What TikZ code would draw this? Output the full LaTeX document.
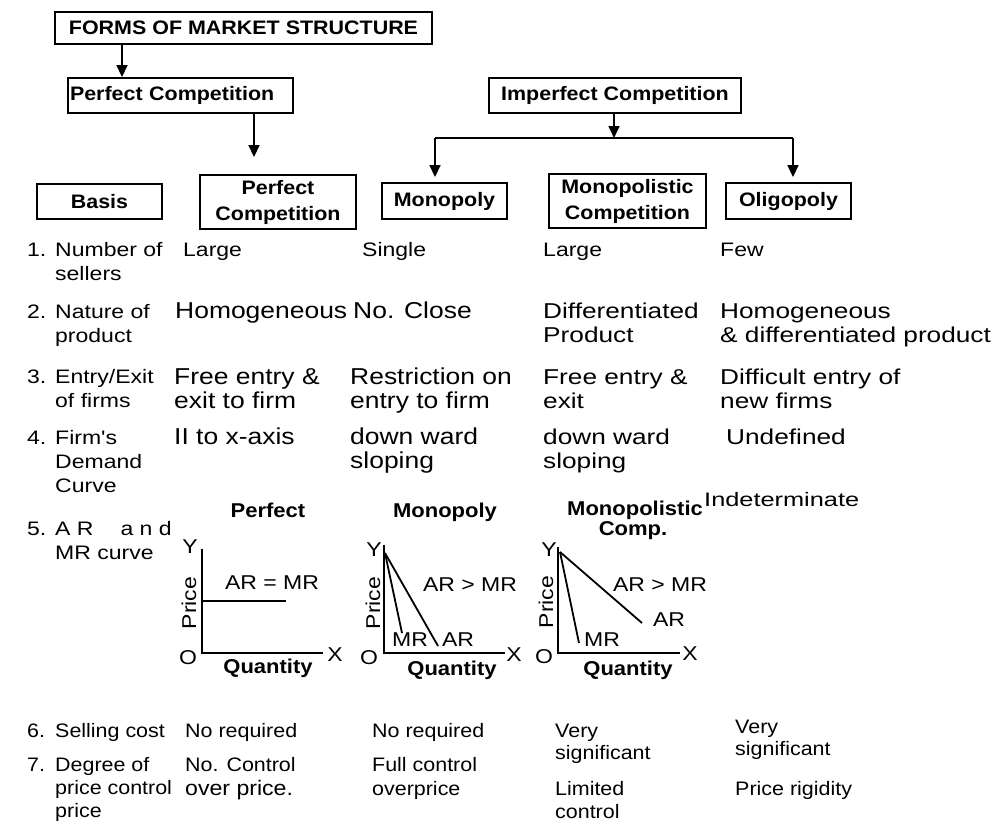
\documentclass[tikz,border=0pt]{standalone}
\usepackage{fontspec}
\setmainfont{Liberation Sans}
\newfontfamily\fA[FakeStretch=1.18]{Liberation Sans}
\newfontfamily\fB[FakeStretch=1.15]{Liberation Sans}
\newfontfamily\fC[FakeStretch=1.22]{Liberation Sans}
\newfontfamily\fD[FakeStretch=1.1]{Liberation Sans}
\newfontfamily\fE[FakeStretch=1.3]{Liberation Sans}
\usetikzlibrary{arrows.meta,calc}
\begin{document}
\begin{tikzpicture}[x=1pt,y=-1pt,
  box/.style={draw, line width=1.9pt, inner sep=0pt, align=center, font=\fD\bfseries\fontsize{19.5}{26}\selectfont},
  arr/.style={line width=1.7pt, -{Triangle[length=12pt,width=11pt]}},
  ln/.style={line width=1.7pt},
  lbl/.style={anchor=base west, inner sep=0pt, font=\fA\fontsize{19.5}{23}\selectfont},
  bigt/.style={anchor=base west, inner sep=0pt, font=\fB\fontsize{23}{26}\selectfont},
  midt/.style={anchor=base west, inner sep=0pt, font=\fC\fontsize{21.5}{25}\selectfont},
  bott/.style={anchor=base west, inner sep=0pt, font=\fD\fontsize{19.5}{22}\selectfont},
  gl/.style={inner sep=0pt, font=\fB\fontsize{20}{22}\selectfont},
  gt/.style={inner sep=0pt, font=\fD\bfseries\fontsize{20}{24}\selectfont},
  axis/.style={line width=2pt},
  curve/.style={line width=1.8pt}]
\useasboundingbox (0,0) rectangle (1001,828);
\fill[white] (0,0) rectangle (1001,828);

% ---------- boxes ----------
\node[box, minimum width=377pt, minimum height=32pt] (forms) at (243.5,28) {FORMS OF MARKET STRUCTURE};
\node[box, minimum height=35pt, text width=221pt, inner xsep=2pt, align=left] (pc) at (180.5,95.5) {Perfect Competition};
\node[box, minimum width=252pt, minimum height=35pt] (ic) at (615,95.5) {Imperfect Competition};
\node[box, minimum width=125pt, minimum height=35pt] (basis) at (99.5,201.5) {Basis};
\node[box, minimum width=156pt, minimum height=54pt] (pc2) at (278,202) {Perfect\\Competition};
\node[box, minimum width=125pt, minimum height=36pt] (mono) at (444.5,201) {Monopoly};
\node[box, minimum width=157pt, minimum height=54pt] (mc) at (627.5,201) {Monopolistic\\Competition};
\node[box, minimum width=125pt, minimum height=36pt] (oli) at (788.5,201) {Oligopoly};

% ---------- connectors ----------
\coordinate (c1) at (122,0);
\coordinate (c2) at (254,0);
\coordinate (jm) at (614,138);
\coordinate (jl) at (435,138);
\coordinate (jr) at (793,138);
\draw[arr] (forms.south -| c1) -- (pc.north -| c1);
\draw[arr, shorten >=17pt] (pc.south -| c2) -- (pc2.north -| c2);
\draw[arr] (ic.south -| jm) -- (jm);
\draw[ln] (jl) -- (jr);
\draw[arr, shorten >=5pt] (jl) -- (mono.north -| jl);
\draw[arr, shorten >=5pt] (jr) -- (oli.north -| jr);

% ---------- row labels ----------
\node[lbl] (n1) at (27,256) {1.};
\node[lbl] (l1a) at (55,256) {Number of};
\node[lbl] (l1b) at (55,280) {sellers};
\node[lbl] (n2) at (27,318) {2.};
\node[lbl] (l2a) at (55,318) {Nature of};
\node[lbl] (l2b) at (55,342) {product};
\node[lbl] (n3) at (27,383) {3.};
\node[lbl] (l3a) at (55,383) {Entry/Exit};
\node[lbl] (l3b) at (55,407) {of firms};
\node[lbl] (n4) at (27,444) {4.};
\node[lbl] (l4a) at (55,444) {Firm's};
\node[lbl] (l4b) at (55,468) {Demand};
\node[lbl] (l4c) at (55,492) {Curve};
\node[lbl] (n5) at (27,535) {5.};
\node[lbl] (l5a) at (55,535) {A R\hspace{27pt}a n d};
\node[lbl] (l5b) at (55,559) {MR curve};

% ---------- row 1 ----------
\node[lbl] (v11) at (183,256) {Large};
\node[lbl] (v12) at (362,256) {Single};
\node[lbl] (v13) at (543,256) {Large};
\node[lbl] (v14) at (720,256) {Few};

% ---------- row 2 ----------
\node[bigt] (v21) at (175,318) {Homogeneous};
\node[bigt] (v22) at (353,318) {No. Close};
\node[midt] (v23a) at (543,318) {Differentiated};
\node[midt] (v23b) at (543,342) {Product};
\node[midt] (v24a) at (720,318) {Homogeneous};
\node[midt] (v24b) at (720,342) {\& differentiated product};

% ---------- row 3 ----------
\node[bigt] (v31a) at (174,384) {Free entry \&};
\node[bigt] (v31b) at (174,408) {exit to firm};
\node[bigt] (v32a) at (350,384) {Restriction on};
\node[bigt] (v32b) at (350,408) {entry to firm};
\node[midt] (v33a) at (543,384) {Free entry \&};
\node[midt] (v33b) at (543,408) {exit};
\node[midt] (v34a) at (720,384) {Difficult entry of};
\node[midt] (v34b) at (720,408) {new firms};

% ---------- row 4 ----------
\node[bigt] (v41) at (174,444) {II to x-axis};
\node[bigt] (v42a) at (350,444) {down ward};
\node[bigt] (v42b) at (350,468) {sloping};
\node[midt] (v43a) at (543,444) {down ward};
\node[midt] (v43b) at (543,468) {sloping};
\node[midt] (v44) at (726,444) {Undefined};

% ---------- graph 1: perfect ----------
\node[gt] (g1h) at (268,510) {Perfect};
\draw[axis] (202,549) -- (202,653) -- (323,653);
\draw[curve] (202,601) -- (286,601);
\node[gl] (g1y) at (190,547) {Y};
\node[gl] (g1o) at (188,658) {O};
\node[gl] (g1x) at (335,655) {X};
\node[gl, rotate=90] (g1p) at (189,603) {Price};
\node[gl] (g1t) at (272,583) {AR = MR};
\node[gt] (g1q) at (268,668) {Quantity};

% ---------- graph 2: monopoly ----------
\node[gt] (g2h) at (445,512) {Monopoly};
\draw[axis] (384,545) -- (384,653) -- (505,653);
\draw[curve] (385,553) -- (402,633);
\draw[curve] (385,553) -- (438,646);
\node[gl] (g2y) at (374,550) {Y};
\node[gl] (g2o) at (369,658) {O};
\node[gl] (g2x) at (514,655) {X};
\node[gl, rotate=90] (g2p) at (373,603) {Price};
\node[gl] (g2t) at (470,585) {AR > MR};
\node[gl] (g2m) at (410,640) {MR};
\node[gl] (g2a) at (458,640) {AR};
\node[gt] (g2q) at (452,670) {Quantity};

% ---------- graph 3: monopolistic ----------
\node[gt] (g3h) at (635,510) {Monopolistic};
\node[gt] (g3h2) at (633,531) {Comp.};
\draw[axis] (558,547) -- (558,653) -- (680,653);
\draw[curve] (560,552) -- (642,623);
\draw[curve] (560,552) -- (579,643);
\node[gl] (g3y) at (549,550) {Y};
\node[gl] (g3o) at (544,657) {O};
\node[gl] (g3x) at (690,654) {X};
\node[gl, rotate=90] (g3p) at (546,602) {Price};
\node[gl] (g3t) at (660,585) {AR > MR};
\node[gl] (g3a) at (669,620) {AR};
\node[gl] (g3m) at (602,640) {MR};
\node[gt] (g3q) at (628,670) {Quantity};

\node[anchor=west, inner sep=0pt, font=\fE\fontsize{19.5}{22}\selectfont] (ind) at (704,500) {Indeterminate};

% ---------- rows 6 & 7 ----------
\node[bott] (n6) at (27,737) {6.};
\node[bott] (l6) at (55,737) {Selling cost};
\node[bott] (n7) at (27,771) {7.};
\node[bott] (l7a) at (55,771) {Degree of};
\node[bott] (l7b) at (55,794) {price control};
\node[bott] (l7c) at (55,817) {price};

\node[bott] (v61) at (185,737) {No required};
\node[bott] (v62) at (372,737) {No required};
\node[bott] (v63a) at (555,737) {Very};
\node[bott] (v63b) at (555,759) {significant};
\node[bott] (v64a) at (735,733) {Very};
\node[bott] (v64b) at (735,755) {significant};

\node[bott] (v71a) at (185,771) {No. Control};
\node[bott, font=\fD\fontsize{21}{24}\selectfont] (v71b) at (185,795) {over price.};
\node[bott] (v72a) at (372,771) {Full control};
\node[bott] (v72b) at (372,795) {overprice};
\node[bott] (v73a) at (555,795) {Limited};
\node[bott] (v73b) at (555,818) {control};
\node[bott] (v74) at (735,795) {Price rigidity};
\end{tikzpicture}
\end{document}
